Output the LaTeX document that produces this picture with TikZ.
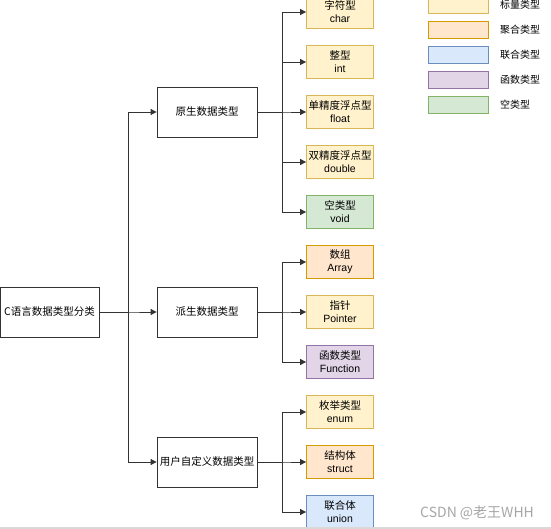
\documentclass[tikz,border=0pt]{standalone}
\usepackage{fontspec}
\setmainfont{Liberation Sans}
\newfontfamily\cjk{Noto Sans CJK SC}
\usetikzlibrary{arrows.meta}
\definecolor{yfill}{HTML}{FFF2CC}\definecolor{ydraw}{HTML}{D6B656}
\definecolor{ofill}{HTML}{FFE6CC}\definecolor{odraw}{HTML}{D79B00}
\definecolor{bfill}{HTML}{DAE8FC}\definecolor{bdraw}{HTML}{6C8EBF}
\definecolor{pfill}{HTML}{E1D5E7}\definecolor{pdraw}{HTML}{9673A6}
\definecolor{gfill}{HTML}{D5E8D4}\definecolor{gdraw}{HTML}{82B366}
\definecolor{linec}{HTML}{333333}
\tikzset{
  base/.style={rectangle, inner sep=0pt, align=center, font=\fontsize{10.5}{13}\selectfont},
  midbox/.style={base, draw=linec, line width=0.8pt, fill=white, minimum width=100pt, minimum height=50pt},
  leaf/.style={base, line width=0.8pt, minimum width=67pt, minimum height=33pt},
  ylw/.style={leaf, fill=yfill, draw=ydraw},
  org/.style={leaf, fill=ofill, draw=odraw},
  blu/.style={leaf, fill=bfill, draw=bdraw},
  prp/.style={leaf, fill=pfill, draw=pdraw},
  grn/.style={leaf, fill=gfill, draw=gdraw},
  legbox/.style={rectangle, line width=0.8pt, minimum width=60pt, minimum height=17pt, inner sep=0pt},
  leglab/.style={anchor=west, inner sep=0pt, font=\cjk\fontsize{10}{11}\selectfont},
  arr/.style={draw=linec, line width=0.8pt, -{Triangle[length=6pt,width=6pt]}},
}
\begin{document}
\begin{tikzpicture}[x=1pt,y=-1pt]
\useasboundingbox (0,0) rectangle (551,529);
\clip (0,0) rectangle (551,529);
% root
\node[midbox, minimum width=99pt] (root) at (49.5,312) {\cjk C语言数据类型分类};
% middle
\node[midbox] (m1) at (207,112) {\cjk 原生数据类型};
\node[midbox] (m2) at (207,312) {\cjk 派生数据类型};
\node[midbox] (m3) at (207,462) {\cjk 用户自定义数据类型};
% leaves
\node[ylw] (l1) at (340,12) {{\cjk 字符型}\\char};
\node[ylw] (l2) at (340,62) {{\cjk 整型}\\int};
\node[ylw] (l3) at (340,112) {{\cjk 单精度浮点型}\\float};
\node[ylw] (l4) at (340,162) {{\cjk 双精度浮点型}\\double};
\node[grn] (l5) at (340,212) {{\cjk 空类型}\\void};
\node[org] (l6) at (340,262) {{\cjk 数组}\\Array};
\node[ylw] (l7) at (340,312) {{\cjk 指针}\\Pointer};
\node[prp] (l8) at (340,362) {{\cjk 函数类型}\\Function};
\node[ylw] (l9) at (340,412) {{\cjk 枚举类型}\\enum};
\node[org] (l10) at (340,462) {{\cjk 结构体}\\struct};
\node[blu] (l11) at (340,512) {{\cjk 联合体}\\union};
% connectors root -> middle
\foreach \m in {m1,m2,m3} \draw[arr] (root.east) -- ++(29,0) |- (\m.west);
% middle -> leaves
\foreach \l in {l1,l2,l3,l4,l5} \draw[arr] (m1.east) -- ++(25,0) |- (\l.west);
\foreach \l in {l6,l7,l8} \draw[arr] (m2.east) -- ++(25,0) |- (\l.west);
\foreach \l in {l9,l10,l11} \draw[arr] (m3.east) -- ++(25,0) |- (\l.west);
% legend
\node[legbox, fill=yfill, draw=ydraw] (g1) at (458,4.5) {};
\node[legbox, fill=ofill, draw=odraw] (g2) at (458,29.5) {};
\node[legbox, fill=bfill, draw=bdraw] (g3) at (458,54.5) {};
\node[legbox, fill=pfill, draw=pdraw] (g4) at (458,79.5) {};
\node[legbox, fill=gfill, draw=gdraw] (g5) at (458,104.5) {};
\node[leglab] (t1) at (500,4.5) {标量类型};
\node[leglab] (t2) at (500,29.5) {聚合类型};
\node[leglab] (t3) at (500,54.5) {联合类型};
\node[leglab] (t4) at (500,79.5) {函数类型};
\node[leglab] (t5) at (500,104.5) {空类型};
% watermark
\node[anchor=west, inner sep=0pt, text=black!35, font=\cjk\fontsize{14}{16}\selectfont] (wm) at (420,513) {CSDN @老王WHH};
\draw[black!15, line width=1.2pt] (0,528) -- (551,528);
\end{tikzpicture}
\end{document}
